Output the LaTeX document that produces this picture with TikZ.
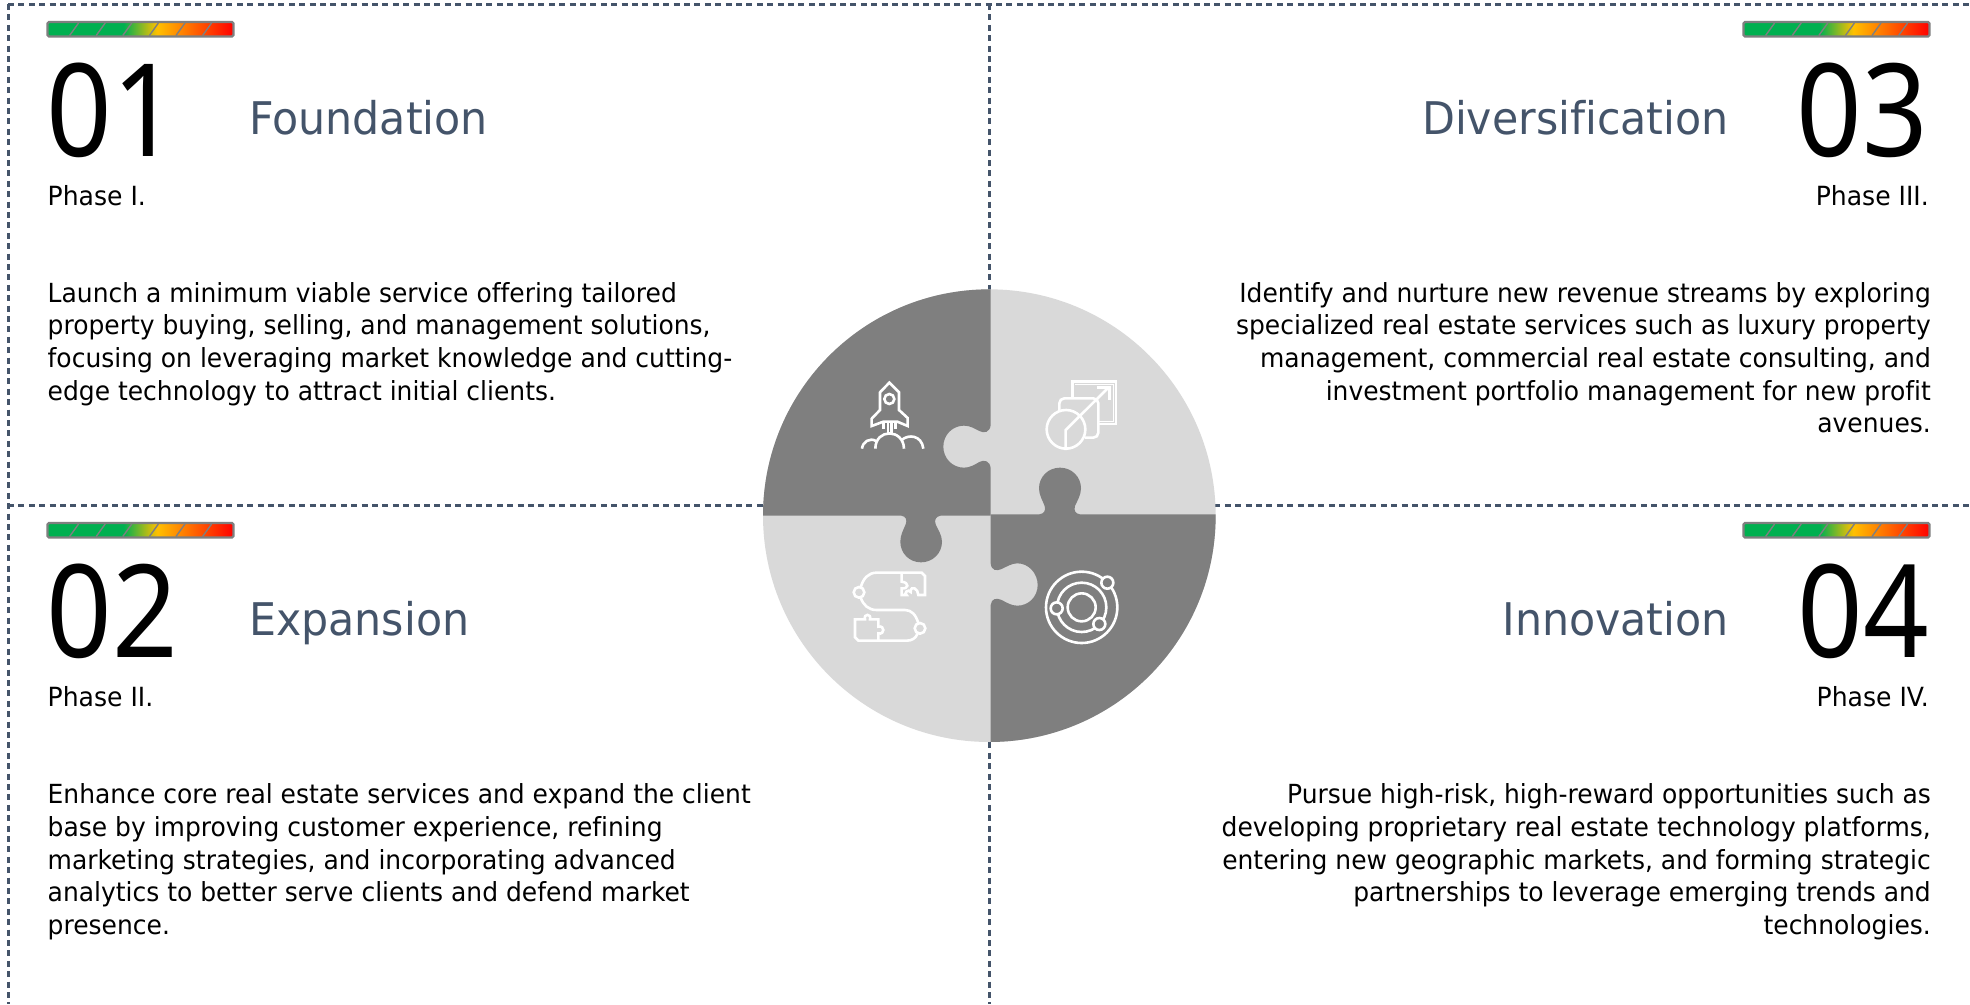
\documentclass[tikz,border=0pt]{standalone}
\usepackage{fontspec}
\setmainfont{DejaVu Sans}[FakeStretch=0.95,Ligatures=NoCommon]
\newfontfamily\numfont{Noto Sans}[FakeStretch=0.89]
\definecolor{slate}{HTML}{44546A}
\definecolor{piecedark}{HTML}{7F7F7F}
\definecolor{piecelight}{HTML}{D9D9D9}
\definecolor{gaugegreen}{HTML}{00B050}
\definecolor{gaugeamber}{HTML}{FFC000}
\definecolor{gaugered}{HTML}{FF0000}
\pgfdeclarehorizontalshading{gaugeshade}{100bp}{
  color(0bp)=(gaugegreen); color(25bp)=(gaugegreen); color(45.5bp)=(gaugegreen);
  color(54.5bp)=(gaugeamber); color(75bp)=(gaugered); color(100bp)=(gaugered)}
\tikzset{
  frameline/.style={draw=slate,line width=3pt,dash pattern=on 6pt off 4.4pt},
  bignum/.style={inner sep=0pt,font=\numfont\fontsize{129}{129}\selectfont,text=black},
  phasetitle/.style={inner sep=0pt,font=\fontsize{45}{45}\selectfont,text=slate},
  phaselabel/.style={inner sep=0pt,font=\fontsize{26.4}{26.4}\selectfont,text=black},
  bodytext/.style={inner sep=0pt,font=\fontsize{26.3}{32.7}\selectfont,text=black},
  icon/.style={draw=white,line width=2.6pt,line join=miter,fill=none},
  gaugebox/.style={draw=piecedark,line width=2.2pt,rounded corners=1.5pt,shade,shading=gaugeshade},
  gaugetick/.style={draw=piecedark,line width=1.4pt}
}
\newcommand{\gaugebar}[3]{%
  \begin{scope}[shift={(#1,#2)}]
    \path[gaugebox] (0,0) rectangle (186,14.5);
    \foreach \k in {1,...,6}{
      \draw[gaugetick] ({\k*26.6-4.5},13.5) -- ({\k*26.6+4.5},1);
    }
    \coordinate (#3) at (0,0);
  \end{scope}}
\begin{document}
\begin{tikzpicture}[x=1pt,y=-1pt]
\useasboundingbox (0,0) rectangle (1970,1004);
\fill[white] (0,0) rectangle (1970,1004);

% dashed frame
\coordinate (tl) at (8,4);
\coordinate (tr) at (1970,4);
\coordinate (bl) at (8,1004);
\coordinate (tm) at (989,4);
\coordinate (bm) at (989,1004);
\coordinate (ml) at (8,505);
\coordinate (mr) at (1970,505);
\draw[frameline] (tl) -- (tr);
\draw[frameline] (tl) -- (bl);
\draw[frameline] (tm) -- (bm);
\draw[frameline] (ml) -- (mr);

% puzzle
\begin{scope}[shift={(740,270)},scale=1/3]
  \fill[piecelight] (748,737) circle[radius=679];
  \begin{scope}
    \clip (748,737) circle[radius=679];
    \fill[piecedark] (752,0) -- (0,0) -- (0,737) -- (484,737)
      .. controls (498,739) and (502,750) .. (497,763)
      .. controls (490,780) and (481,795) .. (481,815)
      .. controls (481,850) and (508,877) .. (543,877)
      .. controls (578,877) and (606,850) .. (606,815)
      .. controls (606,795) and (594,780) .. (587,763)
      .. controls (582,750) and (588,739) .. (602,737)
      -- (752,737) -- (752,595)
      .. controls (750,572) and (732,568) .. (718,576)
      .. controls (704,584) and (690,593) .. (672,593)
      .. controls (637,593) and (610,565) .. (610,530)
      .. controls (610,495) and (637,467) .. (672,467)
      .. controls (690,467) and (704,476) .. (718,483)
      .. controls (732,491) and (750,487) .. (752,465)
      -- cycle;
    \fill[piecedark] (752,733) -- (898,733)
      .. controls (912,731) and (918,722) .. (914,708)
      .. controls (908,692) and (897,675) .. (897,655)
      .. controls (897,620) and (925,593) .. (960,593)
      .. controls (995,593) and (1023,620) .. (1023,655)
      .. controls (1023,675) and (1012,692) .. (1005,708)
      .. controls (1001,722) and (1006,731) .. (1020,733)
      -- (1500,733) -- (1500,1500) -- (752,1500) -- (752,1005)
      .. controls (754,985) and (770,983) .. (785,990)
      .. controls (800,998) and (815,1007) .. (832,1007)
      .. controls (866,1007) and (893,980) .. (893,945)
      .. controls (893,910) and (866,880) .. (832,880)
      .. controls (815,880) and (800,890) .. (785,897)
      .. controls (770,904) and (754,902) .. (752,880)
      -- cycle;
  \end{scope}
\end{scope}

% rocket icon
\begin{scope}[shift={(840,360)},scale=1/3]
  \draw[icon] (148,68) -- (120,97) -- (120,150) -- (95,176) -- (95,198) -- (130,185) -- (172,185) -- (203,198) -- (203,174) -- (177,150) -- (177,97) -- cycle;
  \draw[icon] (148,117) circle[radius=15];
  \draw[icon] (130,187) -- (130,207) (144,190) -- (144,218) (155,190) -- (155,218) (166,187) -- (166,207);
  \draw[icon] (66,266) .. controls (68,245) and (90,232) .. (108,243);
  \draw[icon] (106,266) .. controls (106,205) and (190,205) .. (192,266);
  \draw[icon] (185,240) .. controls (205,222) and (245,225) .. (250,266);
\end{scope}

% growth icon
\begin{scope}[shift={(1030,370)},scale=1/3]
  \draw[icon] (128,80) -- (128,35) -- (258,35) -- (258,162) -- (207,162);
  \draw[icon,line width=1pt] (136,42) -- (250,42) -- (250,155) -- (207,155);
  \draw[icon,rounded corners=5pt] (88,125) -- (88,85) -- (205,85) -- (205,203) -- (165,203);
  \draw[icon] (108,178) circle[radius=58];
  \draw[icon] (107,240) -- (107,180) -- (236,52);
  \draw[icon] (200,52) -- (238,52) -- (238,90);
\end{scope}

% roadmap icon
\begin{scope}[shift={(840,560)},scale=1/3]
  \draw[icon] (57,97) circle[radius=16];
  \draw[icon] (240,205) circle[radius=16];
  \draw[icon] (62,82) .. controls (70,55) and (85,38) .. (110,38) -- (245,38) -- (255,48) -- (255,105) -- (235,105)
    .. controls (235,85) and (212,75) .. (212,95) -- (212,96) .. controls (205,85) and (190,100) .. (200,105) -- (185,105) -- (185,85)
    .. controls (205,88) and (210,68) .. (185,65) -- (185,38);
  \draw[icon] (62,113) .. controls (70,135) and (85,150) .. (110,150) -- (195,150) .. controls (215,150) and (228,165) .. (235,190);
  \draw[icon] (233,220) .. controls (228,235) and (215,242) .. (200,242) -- (55,242) -- (45,232) -- (45,178) -- (75,178)
    .. controls (70,160) and (95,160) .. (90,178) -- (115,178) -- (115,200) .. controls (135,195) and (135,225) .. (115,220) -- (115,242);
\end{scope}

% orbit icon
\begin{scope}[shift={(1030,555)},scale=1/3]
  \draw[icon] (155,157) circle[radius=107];
  \draw[icon] (155,157) circle[radius=74];
  \draw[icon] (155,157) circle[radius=42];
  \foreach \p/\q in {232/83,80/160,208/207}{
    \filldraw[draw=white,fill=piecedark,line width=2.6pt] (\p,\q) circle[radius=18];
  }
\end{scope}

% gauges
\gaugebar{47.5}{22}{gaugeA}
\gaugebar{47.5}{523}{gaugeB}
\gaugebar{1743.5}{22}{gaugeC}
\gaugebar{1743.5}{523}{gaugeD}

% Phase I
\node[bignum,anchor=base west] (numA) at (46.5,156) {01};
\node[phasetitle,anchor=base west] (titleA) at (249,134) {Foundation};
\node[phaselabel,anchor=base west] (phaseA) at (47.5,205.5) {Phase I.};
\node[bodytext,anchor=north west,align=left] (bodyA) at (47.5,282) {Launch a minimum viable service offering tailored\\property buying, selling, and management solutions,\\focusing on leveraging market knowledge and cutting-\\edge technology to attract initial clients.};

% Phase II
\node[bignum,anchor=base west] (numB) at (46.5,657) {02};
\node[phasetitle,anchor=base west] (titleB) at (249,635) {Expansion};
\node[phaselabel,anchor=base west] (phaseB) at (47.5,706.5) {Phase II.};
\node[bodytext,anchor=north west,align=left] (bodyB) at (47.5,783.5) {Enhance core real estate services and expand the client\\base by improving customer experience, refining\\marketing strategies, and incorporating advanced\\analytics to better serve clients and defend market\\presence.};

% Phase III
\node[bignum,anchor=base east] (numC) at (1928.5,156) {03};
\node[phasetitle,anchor=base east] (titleC) at (1729,134) {Diversification};
\node[phaselabel,anchor=base east] (phaseC) at (1929,205.5) {Phase III.};
\node[bodytext,anchor=north east,align=right] (bodyC) at (1931,282) {Identify and nurture new revenue streams by exploring\\specialized real estate services such as luxury property\\management, commercial real estate consulting, and\\investment portfolio management for new profit\\avenues.};

% Phase IV
\node[bignum,anchor=base east] (numD) at (1929,657) {04};
\node[phasetitle,anchor=base east] (titleD) at (1729,635) {Innovation};
\node[phaselabel,anchor=base east] (phaseD) at (1929,706.5) {Phase IV.};
\node[bodytext,anchor=north east,align=right] (bodyD) at (1931,783.5) {Pursue high-risk, high-reward opportunities such as\\developing proprietary real estate technology platforms,\\entering new geographic markets, and forming strategic\\partnerships to leverage emerging trends and\\technologies.};
\end{tikzpicture}
\end{document}
